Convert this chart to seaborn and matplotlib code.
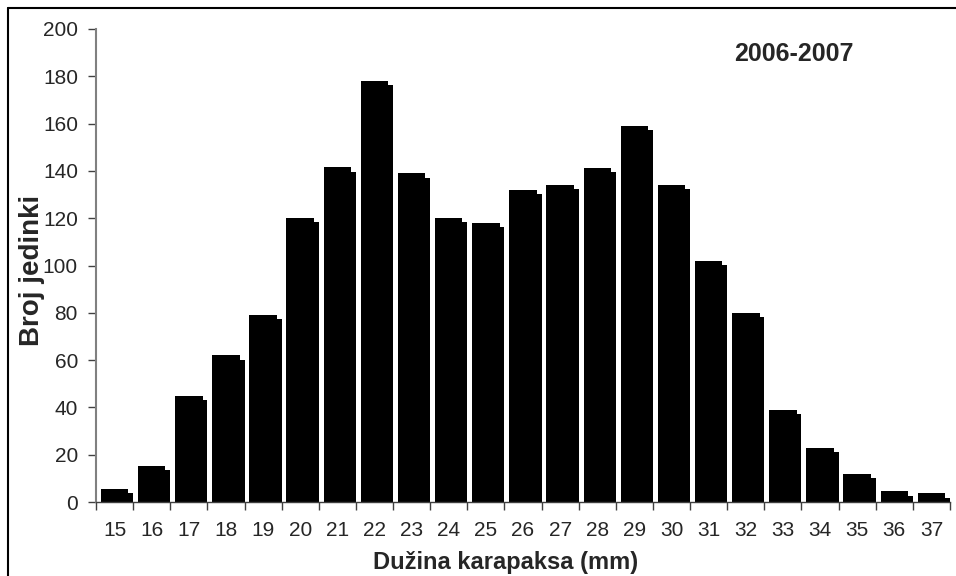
import numpy as np
import pandas as pd
import seaborn as sns
import matplotlib.pyplot as plt
from matplotlib.lines import Line2D
from matplotlib.ticker import FixedLocator

# carapace length classes (mm) and number of individuals
lengths = [str(v) for v in range(15, 38)]
counts = [5.5, 15.4, 45, 62, 79, 120, 141.5, 178, 139, 120, 118, 132, 134,
          141.4, 159, 134, 102, 80, 39, 23, 12, 4.5, 3.6]
shadow_drop = 1.8

df = pd.DataFrame({"Duzina": lengths, "Broj": counts})
df["Sjena"] = df["Broj"] - shadow_drop

sns.set_style("white")
plt.rcParams["font.family"] = ["Liberation Sans", "DejaVu Sans"]

fig = plt.figure(figsize=(9.56, 5.76), dpi=100)
ax = fig.add_axes([96 / 956, 1 - 502 / 576, 854 / 956, 473 / 576])

# shadow bars first, shifted right
sns.barplot(data=df, x="Duzina", y="Sjena", color="black", width=0.74,
            saturation=1, ax=ax)
n_shadow = len(ax.patches)
for p in ax.patches:
    p.set_x(p.get_x() + 0.13)
    p.set_edgecolor("none")
sns.barplot(data=df, x="Duzina", y="Broj", color="black", width=0.74,
            saturation=1, ax=ax)
for p in ax.patches[n_shadow:]:
    p.set_edgecolor("none")

ax.set_xlim(-0.5, len(lengths) - 0.5)
ax.set_ylim(0, 200)
ax.set_yticks(range(0, 201, 20))

ax.xaxis.set_minor_locator(FixedLocator(np.arange(-0.5, len(lengths), 1)))
ax.tick_params(axis="x", which="major", length=0, pad=14, labelsize=15)
ax.tick_params(axis="x", which="minor", bottom=True, length=6, width=1,
               color="#404040", direction="out")
ax.tick_params(axis="y", which="major", left=True, length=6, width=1,
               color="#404040", pad=7, labelsize=15, direction="out")

for side in ["top", "right"]:
    ax.spines[side].set_visible(False)
ax.spines["left"].set_color("#808080")
ax.spines["left"].set_linewidth(1.5)
ax.spines["bottom"].set_color("#404040")
ax.spines["bottom"].set_linewidth(1)

ax.set_xlabel("Dužina karapaksa (mm)", fontsize=17, fontweight="bold")
ax.set_ylabel("Broj jedinki", fontsize=20, fontweight="bold")
ax.xaxis.set_label_coords(0.48, -0.104)
ax.yaxis.set_label_coords(-0.06, 0.49)

ax.text(0.817, 0.947, "2006-2007", transform=ax.transAxes, fontsize=18,
        fontweight="bold", ha="center", va="center")

# frame lines on the left and top of the picture
fig.add_artist(Line2D([8 / 956, 8 / 956], [0, 1 - 8 / 576], color="black",
                      lw=1.5, transform=fig.transFigure))
fig.add_artist(Line2D([8 / 956, 1], [1 - 8 / 576, 1 - 8 / 576], color="black",
                      lw=1.5, transform=fig.transFigure))

fig.savefig("out.png", dpi=100)
